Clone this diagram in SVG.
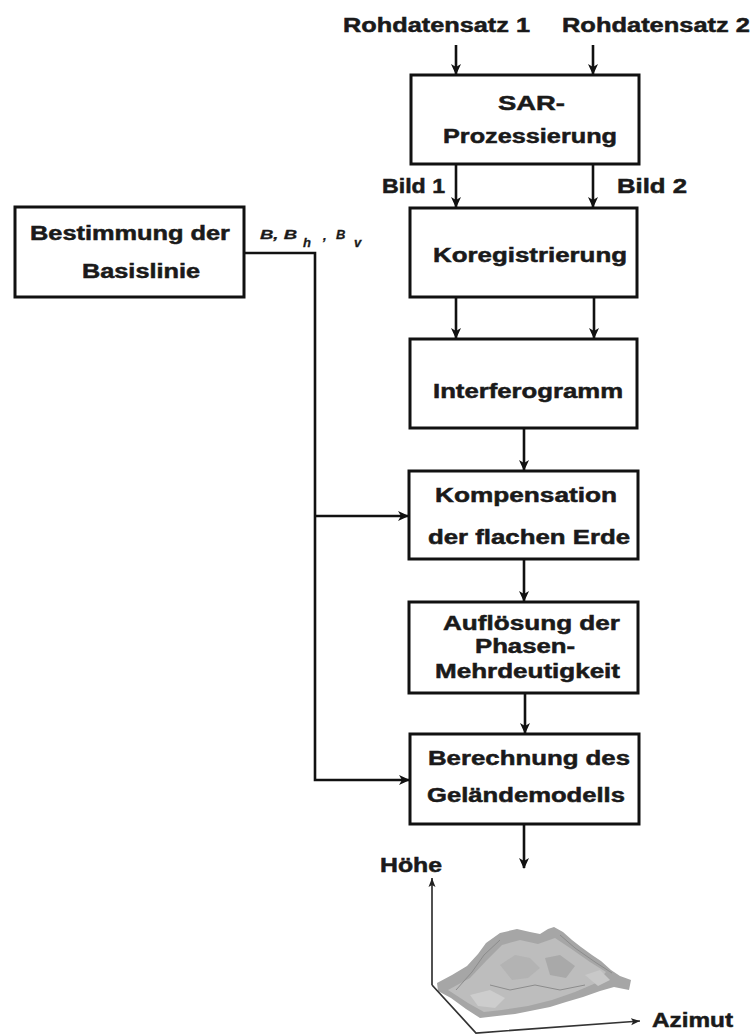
<svg xmlns="http://www.w3.org/2000/svg" width="754" height="1035" viewBox="0 0 754 1035">
  <defs>
    <style>
      .box { fill: #ffffff; stroke: #111111; stroke-width: 3; }
      .lbl { font-family: "Liberation Sans", Arial, sans-serif; font-weight: bold; font-size: 20px; fill: #1a1a1a; stroke: #1a1a1a; stroke-width: 0.5; }
      .sym { font-family: "Liberation Sans", Arial, sans-serif; font-weight: bold; font-style: italic; font-size: 13px; fill: #1a1a1a; stroke: #1a1a1a; stroke-width: 0.3; }
      .wire { fill: none; stroke: #111111; stroke-width: 2.6; }
      .axis { fill: none; stroke: #333333; stroke-width: 1.7; }
      .ridge { fill: none; stroke: #8c8c8c; stroke-width: 1; }
    </style>
    <marker id="arrow" markerWidth="12" markerHeight="12" refX="10" refY="6" orient="auto" markerUnits="userSpaceOnUse">
      <path d="M0,1 L11,6 L0,11 L3,6 Z" fill="#111111"/>
    </marker>
    <marker id="arrowSmall" markerWidth="10" markerHeight="10" refX="9" refY="5" orient="auto" markerUnits="userSpaceOnUse">
      <path d="M0,1.5 L9,5 L0,8.5 L2,5 Z" fill="#222222"/>
    </marker>
  </defs>

  <rect width="754" height="1035" fill="#ffffff"/>

  <!-- input labels -->
  <g id="inputs">
    <text class="lbl" x="343" y="32" textLength="187" lengthAdjust="spacingAndGlyphs">Rohdatensatz 1</text>
    <text class="lbl" x="562" y="32" textLength="188" lengthAdjust="spacingAndGlyphs">Rohdatensatz 2</text>
  </g>

  <g id="sar">
    <rect class="box" x="411" y="75" width="228" height="89"/>
    <text class="lbl" x="498" y="110" textLength="67" lengthAdjust="spacingAndGlyphs">SAR-</text>
    <text class="lbl" x="443" y="143" textLength="174" lengthAdjust="spacingAndGlyphs">Prozessierung</text>
  </g>

  <g id="koregistrierung">
    <rect class="box" x="410" y="208" width="227" height="89"/>
    <text class="lbl" x="433" y="262" textLength="194" lengthAdjust="spacingAndGlyphs">Koregistrierung</text>
  </g>

  <g id="interferogramm">
    <rect class="box" x="410" y="339" width="227" height="89"/>
    <text class="lbl" x="433" y="398" textLength="190" lengthAdjust="spacingAndGlyphs">Interferogramm</text>
  </g>

  <g id="kompensation">
    <rect class="box" x="409" y="471" width="229" height="88"/>
    <text class="lbl" x="435" y="502" textLength="182" lengthAdjust="spacingAndGlyphs">Kompensation</text>
    <text class="lbl" x="428" y="544" textLength="202" lengthAdjust="spacingAndGlyphs">der flachen Erde</text>
  </g>

  <g id="aufloesung">
    <rect class="box" x="409" y="602" width="229" height="91"/>
    <text class="lbl" x="443" y="630" textLength="177" lengthAdjust="spacingAndGlyphs">Auflösung der</text>
    <text class="lbl" x="475" y="653" textLength="100" lengthAdjust="spacingAndGlyphs">Phasen-</text>
    <text class="lbl" x="435" y="678" textLength="185" lengthAdjust="spacingAndGlyphs">Mehrdeutigkeit</text>
  </g>

  <g id="berechnung">
    <rect class="box" x="410" y="734" width="229" height="90"/>
    <text class="lbl" x="428" y="765" textLength="202" lengthAdjust="spacingAndGlyphs">Berechnung des</text>
    <text class="lbl" x="427" y="802" textLength="198" lengthAdjust="spacingAndGlyphs">Geländemodells</text>
  </g>

  <g id="basislinie">
    <rect class="box" x="15" y="207" width="229" height="90"/>
    <text class="lbl" x="30" y="240" textLength="200" lengthAdjust="spacingAndGlyphs">Bestimmung der</text>
    <text class="lbl" x="82" y="278" textLength="118" lengthAdjust="spacingAndGlyphs">Basislinie</text>
  </g>

  <!-- connectors -->
  <g id="connectors">
    <line class="wire" x1="456" y1="45" x2="456" y2="74" marker-end="url(#arrow)"/>
    <line class="wire" x1="593" y1="45" x2="593" y2="74" marker-end="url(#arrow)"/>
    <line class="wire" x1="456" y1="164" x2="456" y2="207" marker-end="url(#arrow)"/>
    <line class="wire" x1="593" y1="164" x2="593" y2="207" marker-end="url(#arrow)"/>
    <line class="wire" x1="456" y1="297" x2="456" y2="338" marker-end="url(#arrow)"/>
    <line class="wire" x1="594" y1="297" x2="594" y2="338" marker-end="url(#arrow)"/>
    <line class="wire" x1="524" y1="428" x2="524" y2="470" marker-end="url(#arrow)"/>
    <line class="wire" x1="524" y1="559" x2="524" y2="601" marker-end="url(#arrow)"/>
    <line class="wire" x1="525" y1="693" x2="525" y2="733" marker-end="url(#arrow)"/>
    <line class="wire" x1="524" y1="824" x2="524" y2="868" marker-end="url(#arrow)"/>
    <polyline class="wire" points="244,253 315,253 315,780 409,780" marker-end="url(#arrow)"/>
    <line class="wire" x1="315" y1="516" x2="408" y2="516" marker-end="url(#arrow)"/>
  </g>

  <!-- edge labels -->
  <g id="edge-labels">
    <text class="lbl" x="382" y="193" textLength="63" lengthAdjust="spacingAndGlyphs">Bild 1</text>
    <text class="lbl" x="617" y="193" textLength="70" lengthAdjust="spacingAndGlyphs">Bild 2</text>
    <text class="sym" x="260" y="239" textLength="37" lengthAdjust="spacingAndGlyphs">B, B</text>
    <text class="sym" x="303" y="247">h</text>
    <text class="sym" x="323" y="240">,</text>
    <text class="sym" x="336" y="239">B</text>
    <text class="sym" x="354" y="247">v</text>
  </g>

  <!-- terrain model with axes -->
  <g id="terrain">
    <path d="M437,983 L452,975 L467,966 L478,954 L486,943 L500,933 L517,929 L530,932 L540,934 L548,929 L554,927 L563,932 L572,940 L581,947 L592,955 L601,961 L611,970 L620,976 L631,980 L629,990 L614,987 L600,991 L583,997 L566,1002 L550,1007 L530,1011 L515,1014 L497,1016 L480,1018 L466,1009 L451,998 L438,991 Z" fill="#a6a6a6"/>
    <path d="M448,990 L470,978 L487,960 L502,945 L520,940 L538,944 L555,938 L570,948 L590,962 L606,972 L596,983 L575,992 L552,1000 L528,1006 L502,1010 L484,1012 L468,1003 Z" fill="#bdbdbd"/>
    <path d="M500,965 L515,955 L530,958 L540,968 L528,978 L512,980 Z" fill="#b3b3b3"/>
    <path d="M545,958 L560,955 L575,966 L566,978 L550,975 Z" fill="#a9a9a9"/>
    <path d="M470,995 L490,990 L505,998 L495,1008 L478,1006 Z" fill="#cdcdcd"/>
    <path d="M585,975 L600,970 L610,980 L598,986 Z" fill="#c8c8c8"/>
    <path class="ridge" d="M456,990 L472,972 L484,955 L500,940"/>
    <path class="ridge" d="M560,935 L575,948 L595,962 L612,973"/>
    <path class="ridge" d="M490,985 L510,990 L535,985 L560,990 L585,985"/>
    <path class="axis" d="M432,985 L432,878" marker-end="url(#arrowSmall)"/>
    <path class="axis" d="M432,985 L476,1033 L640,1021" marker-end="url(#arrowSmall)"/>
    <text class="lbl" x="380" y="872" textLength="62" lengthAdjust="spacingAndGlyphs">Höhe</text>
    <text class="lbl" x="652" y="1027" textLength="81" lengthAdjust="spacingAndGlyphs">Azimut</text>
  </g>
</svg>
